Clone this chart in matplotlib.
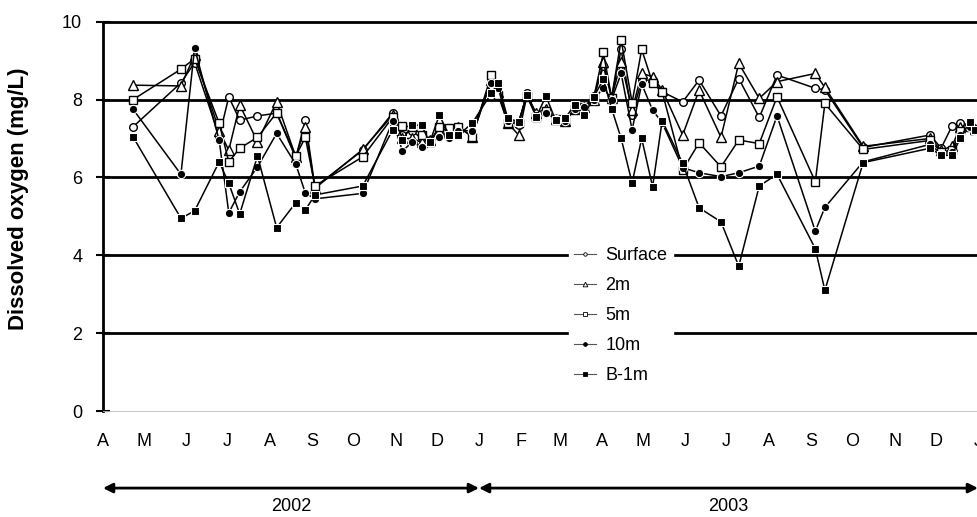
import matplotlib
matplotlib.use("Agg")
import matplotlib.pyplot as plt
from matplotlib.lines import Line2D
import pandas as pd

plt.rcParams['font.family'] = ['Liberation Sans', 'DejaVu Sans']

dates = ["2002-04-23", "2002-05-28", "2002-06-07", "2002-06-25", "2002-07-02",
         "2002-07-10", "2002-07-23", "2002-08-06", "2002-08-20", "2002-08-27",
         "2002-09-03", "2002-10-08", "2002-10-30", "2002-11-06", "2002-11-13",
         "2002-11-20", "2002-11-26", "2002-12-03", "2002-12-10", "2002-12-17",
         "2002-12-27", "2003-01-10", "2003-01-15", "2003-01-22", "2003-01-30",
         "2003-02-05", "2003-02-12", "2003-02-19", "2003-02-26", "2003-03-05",
         "2003-03-12", "2003-03-19", "2003-03-26", "2003-04-02", "2003-04-08",
         "2003-04-15", "2003-04-23", "2003-04-30", "2003-05-08", "2003-05-15",
         "2003-05-30", "2003-06-11", "2003-06-27", "2003-07-10", "2003-07-25",
         "2003-08-07", "2003-09-04", "2003-09-11", "2003-10-09", "2003-11-27",
         "2003-12-05", "2003-12-13", "2003-12-19", "2003-12-26", "2003-12-30"]

surface = [7.30, 8.43, 8.95, 7.05, 8.07, 7.47, 7.58, 7.65, 6.50, 7.47,
           5.75, 6.70, 7.66, 7.10, 7.20, 7.00, 6.95, 7.20, 7.26, 7.30,
           7.05, 8.55, 8.15, 7.45, 7.35, 8.17, 7.60, 7.70, 7.50, 7.45,
           7.75, 7.80, 8.10, 8.85, 8.05, 9.29, 7.60, 8.50, 8.50, 8.20,
           7.94, 8.50, 7.58, 8.54, 7.54, 8.63, 8.29, 8.25, 6.77, 7.09,
           6.75, 7.32, 7.39, 7.35, 7.25]
m2 = [8.37, 8.35, 9.14, 7.20, 6.70, 7.86, 6.92, 7.94, 6.53, 7.30,
      5.72, 6.72, 7.60, 7.00, 7.00, 6.90, 6.95, 7.20, 7.25, 7.30,
      7.05, 8.50, 8.20, 7.40, 7.09, 8.10, 7.65, 7.77, 7.50, 7.45,
      7.75, 7.80, 8.00, 8.97, 8.05, 8.97, 7.73, 8.67, 8.59, 8.25,
      7.09, 8.24, 7.03, 8.93, 8.03, 8.46, 8.67, 8.31, 6.80, 7.00,
      6.70, 6.80, 7.30, 7.35, 7.25]
m5 = [8.00, 8.78, 9.05, 7.39, 6.40, 6.75, 7.03, 7.66, 6.55, 7.03,
      5.78, 6.53, 7.55, 7.32, 7.30, 7.10, 6.92, 7.30, 7.26, 7.30,
      7.05, 8.63, 8.12, 7.40, 7.40, 8.10, 7.55, 7.70, 7.50, 7.45,
      7.75, 7.80, 8.05, 9.21, 8.05, 9.53, 7.92, 9.29, 8.42, 8.20,
      6.19, 6.89, 6.27, 6.96, 6.87, 8.07, 5.89, 7.90, 6.72, 6.95,
      6.65, 6.70, 7.20, 7.30, 7.23]
m10 = [7.75, 6.08, 9.32, 6.95, 5.09, 5.63, 6.27, 7.13, 6.34, 5.60,
       5.45, 5.59, 7.45, 6.68, 6.90, 6.79, 6.90, 7.04, 7.00, 7.20,
       7.20, 8.42, 8.30, 7.45, 7.40, 8.12, 7.60, 7.66, 7.50, 7.45,
       7.75, 7.80, 8.00, 8.30, 8.00, 8.67, 7.22, 8.40, 7.73, 7.40,
       6.25, 6.12, 6.02, 6.12, 6.29, 7.58, 4.62, 5.23, 6.40, 6.85,
       6.60, 6.65, 7.10, 7.30, 7.20]
b1 = [7.04, 4.95, 5.14, 6.40, 5.85, 5.06, 6.55, 4.71, 5.35, 5.16,
      5.55, 5.78, 7.23, 6.96, 7.34, 7.34, 6.90, 7.60, 7.10, 7.09,
      7.39, 8.16, 8.42, 7.52, 7.43, 8.12, 7.56, 8.09, 7.47, 7.52,
      7.86, 7.60, 8.07, 8.52, 7.77, 7.00, 5.86, 7.00, 5.76, 7.46,
      6.36, 5.22, 4.86, 3.72, 5.78, 6.08, 4.17, 3.10, 6.38, 6.75,
      6.57, 6.57, 7.00, 7.43, 7.23]

labels = ["Surface", "2m", "5m", "10m", "B-1m"]
months = ["A", "M", "J", "J", "A", "S", "O", "N", "D", "J", "F", "M",
          "A", "M", "J", "J", "A", "S", "O", "N", "D", "J"]
years = ["2002", "2003"]
year_bounds = ["2002-04-01", "2003-01-01", "2004-01-01"]

x = pd.to_datetime(dates)

fig = plt.figure(figsize=(9.77, 5.17), dpi=100)
ax = fig.add_axes([103 / 977, 106 / 517, 875 / 977, 389.3 / 517])

for yv in [2, 4, 6, 8, 10]:
    ax.axhline(yv, color='black', lw=2.0, zorder=1, clip_on=False)

styles = [
    dict(marker='o', ms=5.5, mfc='white', mec='black', mew=1.0),
    dict(marker='^', ms=7.5, mfc='white', mec='black', mew=1.0),
    dict(marker='s', ms=5.5, mfc='white', mec='black', mew=1.0),
    dict(marker='o', ms=6.0, mfc='black', mec='white', mew=0.8),
    dict(marker='s', ms=6.0, mfc='black', mec='white', mew=0.8),
]
series = [surface, m2, m5, m10, b1]
for vals, st in zip(series, styles):
    ax.plot(x, vals, color='black', lw=1.1, zorder=3, **st)

ax.set_ylim(0, 10)
ax.set_xlim(pd.Timestamp("2002-04-01"), pd.Timestamp("2004-01-01"))
ax.set_yticks([0, 2, 4, 6, 8, 10])
ax.tick_params(axis='y', direction='inout', length=10, width=1.5,
               labelsize=13, pad=10)

mticks = pd.date_range("2002-04-01", "2004-01-01", freq="MS")
ax.set_xticks(mticks)
ax.set_xticklabels(months)
ax.tick_params(axis='x', length=0, labelsize=13, pad=16)

for s in ['top', 'right']:
    ax.spines[s].set_visible(False)
ax.spines['left'].set_linewidth(2.0)
ax.spines['bottom'].set_linewidth(0.6)
ax.spines['bottom'].set_color('#bbbbbb')

fig.text(18.5 / 977, 1 - 199 / 517, "Dissolved oxygen (mg/L)", rotation=90,
         ha='center', va='center', fontsize=16, fontweight='bold')

# year arrows under the month labels
for i, yr in enumerate(years):
    a = pd.Timestamp(year_bounds[i])
    b = pd.Timestamp(year_bounds[i + 1])
    ax.annotate("", xy=(b, -0.198), xytext=(a, -0.198),
                xycoords=('data', 'axes fraction'),
                textcoords=('data', 'axes fraction'),
                arrowprops=dict(arrowstyle='<|-|>', color='black', lw=2,
                                mutation_scale=14, shrinkA=0, shrinkB=0),
                annotation_clip=False)
    ax.text(a + (b - a) / 2, -0.245, yr, transform=ax.get_xaxis_transform(),
            ha='center', va='center', fontsize=13)

handles = [Line2D([], [], color='#555555', lw=0.8, marker=st['marker'],
                  ms=st['ms'] * 0.45, mfc=st['mfc'], mec='black', mew=0.6)
           for st in styles]
leg = ax.legend(handles, labels, loc='upper left',
                bbox_to_anchor=(560 / 977, 1 - 233 / 517),
                bbox_transform=fig.transFigure, fontsize=13,
                handlelength=1.2, handletextpad=0.5, labelspacing=0.72,
                borderpad=0.3, frameon=True, fancybox=False,
                edgecolor='white', facecolor='white', framealpha=1)
leg.set_zorder(5)

fig.savefig("out.png", dpi=100)
